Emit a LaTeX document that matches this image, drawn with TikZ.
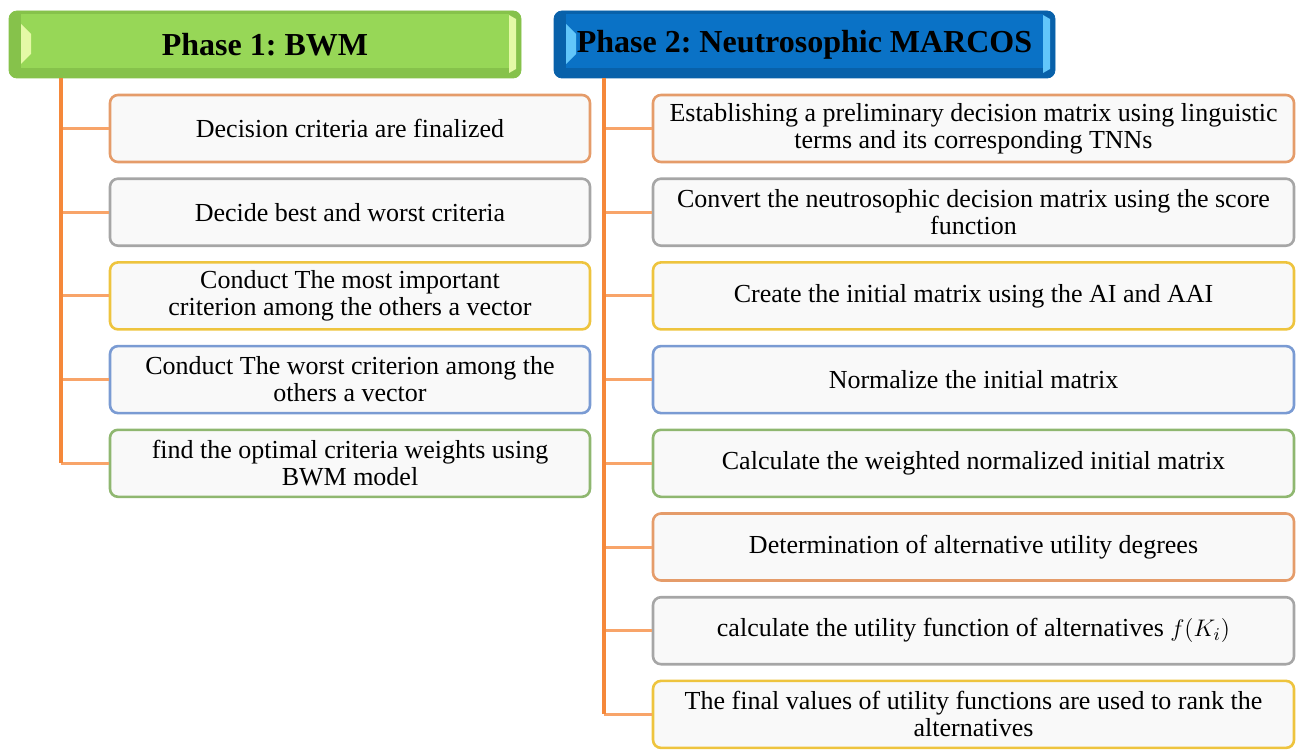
\documentclass[tikz,border=0pt]{standalone}
\usepackage{fontspec}
\setmainfont{Liberation Serif}
\frenchspacing
\definecolor{gface}{HTML}{97D757}
\definecolor{gedge}{HTML}{86C24B}
\definecolor{glight}{HTML}{E4F9A6}
\definecolor{bface}{HTML}{0A72C6}
\definecolor{bedge}{HTML}{0861AA}
\definecolor{blight}{HTML}{62C6FA}
\definecolor{trunkc}{HTML}{F5883A}
\definecolor{branchc}{HTML}{F8A469}
\definecolor{oline}{HTML}{E59C6A}
\definecolor{gline}{HTML}{A6A6A6}
\definecolor{yline}{HTML}{EEC43E}
\definecolor{bline}{HTML}{7A9BD3}
\definecolor{nline}{HTML}{8FB770}
\definecolor{boxfill}{HTML}{F9F9F9}
\begin{document}
\begin{tikzpicture}[x=0.5pt,y=-0.5pt,
  every node/.style={font=\fontsize{13}{13.5}\selectfont},
  head/.style n args={3}{draw=#2,fill=#2,rounded corners=4pt,minimum height=33.5pt,inner sep=0pt,
    font=\fontsize{16}{18}\selectfont\bfseries,
    path picture={
      \fill[#1,sharp corners] ([xshift=6pt,yshift=-1.5pt]path picture bounding box.north west) rectangle ([xshift=-6pt,yshift=5pt]path picture bounding box.south east);
      \fill[#3,sharp corners] ([xshift=6pt,yshift=-6.5pt]path picture bounding box.north west) -- ++(5pt,-5pt) -- ++(0,-10pt) -- ++(-5pt,-5pt) -- cycle;
      \fill[#3,sharp corners] ([xshift=-6pt,yshift=-2pt]path picture bounding box.north east) -- ++(3.5pt,-2pt) -- ++(0,-25pt) -- ++(-3.5pt,-2pt) -- cycle;
    }},
  step box/.style={draw=#1,fill=boxfill,line width=1.3pt,rounded corners=4pt,minimum height=33.5pt,inner sep=0pt,align=center},
  trunk/.style={trunkc,line width=2pt},
  branch/.style={branchc,line width=1.5pt}]
\useasboundingbox (0,0) rectangle (1304,749);
% phase headers
\node[head={gface}{gedge}{glight},minimum width=256pt] (P1) at (265,44.5) {Phase 1: BWM};
\node[head={bface}{bedge}{blight},minimum width=250.5pt] (P2) at (804.5,44.5) {Phase 2: Neutrosophic MARCOS};
% BWM steps
\node[step box=oline,minimum width=240pt] (b1) at (350,128.5) {Decision criteria are finalized};
\node[step box=gline,minimum width=240pt] (b2) at (350,212.2) {Decide best and worst criteria};
\node[step box=yline,minimum width=240pt] (b3) at (350,295.9) {Conduct The most important\\criterion among the others a vector};
\node[step box=bline,minimum width=240pt] (b4) at (350,379.6) {Conduct The worst criterion among the\\others a vector};
\node[step box=nline,minimum width=240pt] (b5) at (350,463.3) {find the optimal criteria weights using\\BWM model};
% MARCOS steps
\node[step box=oline,minimum width=320.5pt] (m1) at (973.5,128.5) {Establishing a preliminary decision matrix using linguistic\\terms and its corresponding TNNs};
\node[step box=gline,minimum width=320.5pt] (m2) at (973.5,212.2) {Convert the neutrosophic decision matrix using the score\\function};
\node[step box=yline,minimum width=320.5pt] (m3) at (973.5,295.9) {Create the initial matrix using the AI and AAI};
\node[step box=bline,minimum width=320.5pt] (m4) at (973.5,379.6) {Normalize the initial matrix};
\node[step box=nline,minimum width=320.5pt] (m5) at (973.5,463.3) {Calculate the weighted normalized initial matrix};
\node[step box=oline,minimum width=320.5pt] (m6) at (973.5,547.0) {Determination of alternative utility degrees};
\node[step box=gline,minimum width=320.5pt] (m7) at (973.5,630.7) {calculate the utility function of alternatives $f(K_i)$};
\node[step box=yline,minimum width=320.5pt] (m8) at (973.5,714.4) {The final values of utility functions are used to rank the\\alternatives};
% trunk lines
\coordinate (bT) at (61,78);
\coordinate (mT) at (604,78);
\draw[branch] (b1.west -| bT) -- (b1.west);
\draw[branch] (b2.west -| bT) -- (b2.west);
\draw[branch] (b3.west -| bT) -- (b3.west);
\draw[branch] (b4.west -| bT) -- (b4.west);
\draw[branch] (b5.west -| bT) -- (b5.west);
\draw[branch] (m1.west -| mT) -- (m1.west);
\draw[branch] (m2.west -| mT) -- (m2.west);
\draw[branch] (m3.west -| mT) -- (m3.west);
\draw[branch] (m4.west -| mT) -- (m4.west);
\draw[branch] (m5.west -| mT) -- (m5.west);
\draw[branch] (m6.west -| mT) -- (m6.west);
\draw[branch] (m7.west -| mT) -- (m7.west);
\draw[branch] (m8.west -| mT) -- (m8.west);
\draw[trunk] (P1.south -| bT) -- (b5.west -| bT);
\draw[trunk] (P2.south -| mT) -- (m8.west -| mT);
\end{tikzpicture}
\end{document}
